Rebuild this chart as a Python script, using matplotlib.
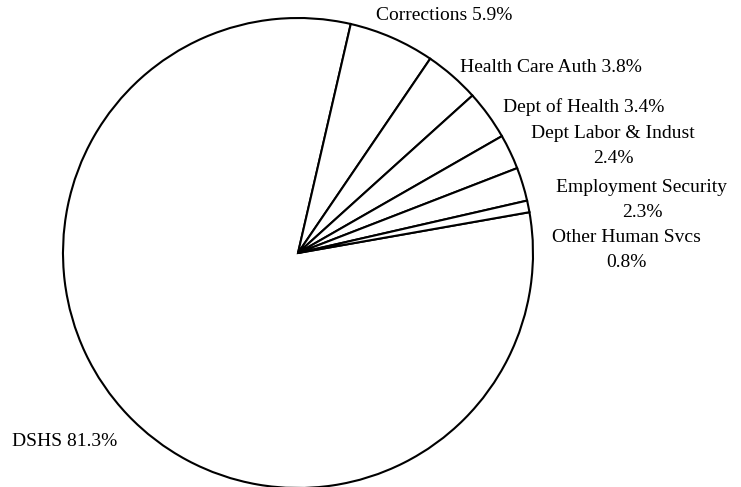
import matplotlib
matplotlib.use("Agg")
import matplotlib.pyplot as plt

plt.rcParams['font.family'] = ['Liberation Serif', 'DejaVu Serif']

agencies = ["DSHS", "Corrections", "Health Care Auth", "Dept of Health",
            "Dept Labor & Indust", "Employment Security", "Other Human Svcs"]
shares = [81.3, 5.9, 3.8, 3.4, 2.4, 2.3, 0.8]
label_text = ["DSHS 81.3%", "Corrections 5.9%", "Health Care Auth 3.8%",
              "Dept of Health 3.4%", "Dept Labor & Indust\n2.4%",
              "Employment Security\n2.3%", "Other Human Svcs\n0.8%"]

fig = plt.figure(figsize=(7.41, 4.87), dpi=100)
ax = fig.add_axes([0, 0, 1, 1])
# work in pixel units centred on the pie
cx, cy = 298, 253

ax.pie(shares, radius=235, startangle=10, counterclock=False,
       colors=['white'] * len(shares),
       wedgeprops=dict(edgecolor='black', linewidth=1.5),
       center=(0, 0), frame=True)
ax.set_xlim(-cx, 741 - cx)
ax.set_ylim(-(487 - cy), cy)
ax.set_aspect('equal')
ax.axis('off')

# label positions (pixels from centre) and alignment
pos = [(-286, -188, 'left'), (78, 237, 'left'), (162, 185, 'left'),
       (205, 146, 'left'), (315, 107, 'center'), (344, 53, 'center'),
       (328, 3, 'center')]
for txt, (x, y, ha) in zip(label_text, pos):
    ax.text(x, y, txt, ha=ha, va='center', fontsize=14, linespacing=1.65,
            multialignment='center')

fig.savefig("out.png", dpi=100)
